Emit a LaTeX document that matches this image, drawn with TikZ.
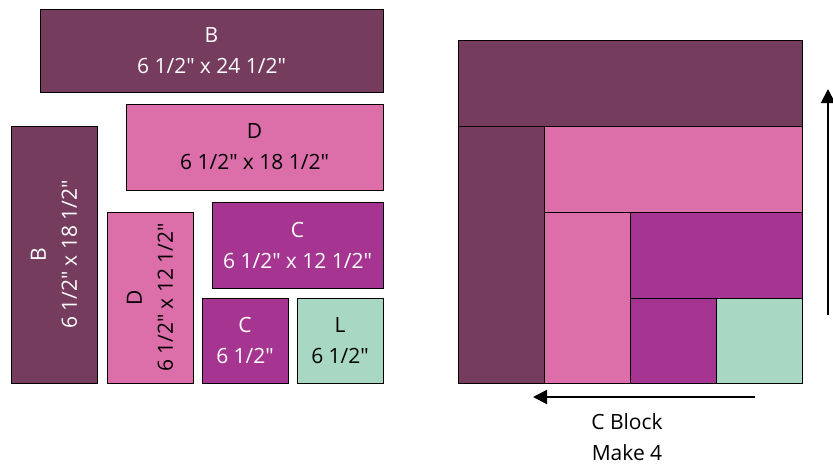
\documentclass[tikz,border=0pt]{standalone}
\usepackage{fontspec}
\setmainfont{Open Sans}
\usetikzlibrary{arrows.meta}
\definecolor{plum}{HTML}{763C5E}
\definecolor{rosepink}{HTML}{DC6EAA}
\definecolor{magenta}{HTML}{A63592}
\definecolor{mint}{HTML}{A8D8C4}
\begin{document}
\begin{tikzpicture}[x=1pt, y=-1pt, font=\fontsize{21}{31}\selectfont,
    piece/.style={draw, line width=0.8pt, inner sep=0pt, outer sep=0pt, align=center},
    pieceB/.style={piece, fill=plum, text=white},
    pieceD/.style={piece, fill=rosepink, text=black},
    pieceC/.style={piece, fill=magenta, text=white},
    pieceL/.style={piece, fill=mint, text=black},
    turn/.style={-{Triangle[length=14pt, width=14pt]}, line width=2pt}]
    \useasboundingbox (0,0) rectangle (833,469);
        % Cut pieces
        \node[pieceB, minimum width=343pt, minimum height=83pt] (cutB1) at (211.5, 50.5) {B\\6 1/2″ x 24 1/2″};
        \node[pieceD, minimum width=257pt, minimum height=86pt] (cutD1) at (254.5, 147) {D\\6 1/2″ x 18 1/2″};
        \node[pieceB, rotate=90, minimum width=257pt, minimum height=86pt] (cutB2) at (54, 254.5) {B\\6 1/2″ x 18 1/2″};
        \node[pieceD, rotate=90, minimum width=171pt, minimum height=86pt] (cutD2) at (150, 297.5) {D\\6 1/2″ x 12 1/2″};
        \node[pieceC, minimum width=171pt, minimum height=86pt] (cutC1) at (297.5, 245) {C\\6 1/2″ x 12 1/2″};
        \node[pieceC, minimum width=86pt, minimum height=85pt] (cutC2) at (245, 340.5) {C\\6 1/2″};
        \node[pieceL, minimum width=86pt, minimum height=85pt] (cutL) at (340, 340.5) {L\\6 1/2″};

        % Sewn block
        \node[pieceB, minimum width=344pt, minimum height=86pt] (blkB1) at (630, 83) {};
        \node[pieceB, minimum width=86pt, minimum height=257pt] (blkB2) at (501, 254.5) {};
        \node[pieceD, minimum width=258pt, minimum height=86pt] (blkD1) at (673, 169) {};
        \node[pieceD, minimum width=86pt, minimum height=171pt] (blkD2) at (587, 297.5) {};
        \node[pieceC, minimum width=172pt, minimum height=86pt] (blkC1) at (716, 255) {};
        \node[pieceC, minimum width=86pt, minimum height=85pt] (blkC2) at (673, 340.5) {};
        \node[pieceL, minimum width=86pt, minimum height=85pt] (blkL) at (759, 340.5) {};

        % Pressing arrows
        \coordinate (upFrom) at (828, 315);
        \coordinate (upTo) at (828, 89);
        \coordinate (leftFrom) at (755, 397);
        \coordinate (leftTo) at (533, 397);
        \draw[turn] (upFrom) -- (upTo);
        \draw[turn] (leftFrom) -- (leftTo);

        \node[align=center, inner sep=0pt] (caption) at (627, 437) {C Block\\Make 4};
    \end{tikzpicture}
\end{document}
